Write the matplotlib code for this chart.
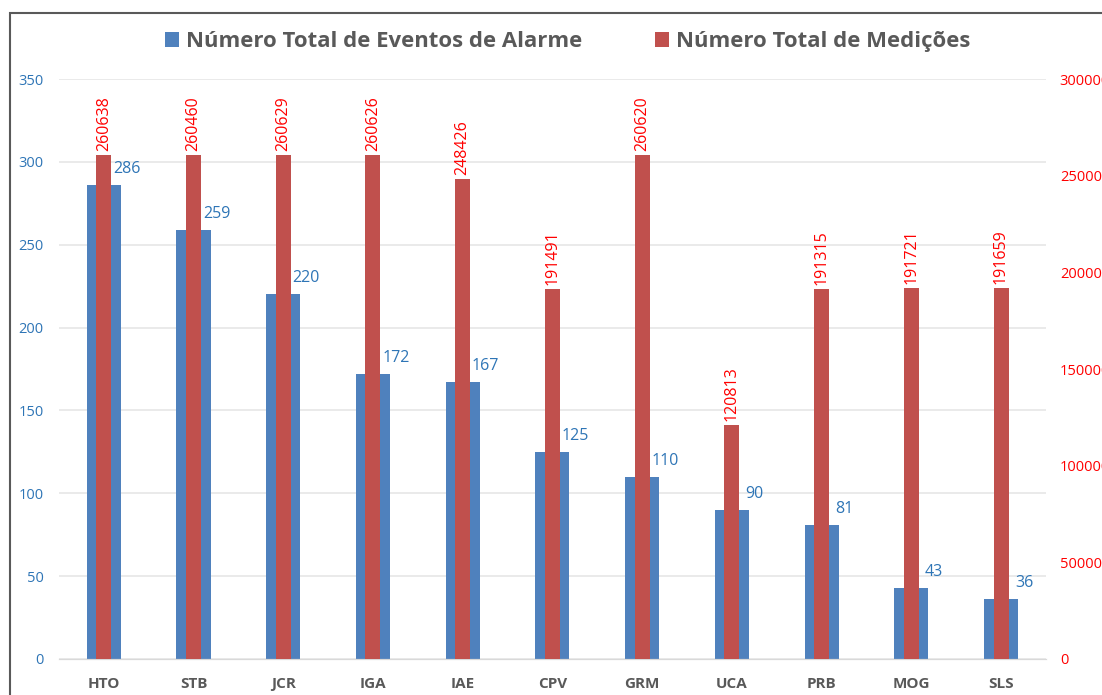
import numpy as np
import matplotlib
matplotlib.use("Agg")
import matplotlib.pyplot as plt
from matplotlib.patches import Rectangle

plt.rcParams['font.family'] = ['Open Sans', 'DejaVu Sans']

stations = ["HTO", "STB", "JCR", "IGA", "IAE", "CPV", "GRM", "UCA", "PRB", "MOG", "SLS"]
alarm_events = [286, 259, 220, 172, 167, 125, 110, 90, 81, 43, 36]
measurements = [260638, 260460, 260629, 260626, 248426, 191491, 260620,
                120813, 191315, 191721, 191659]
left_ticks = [0, 50, 100, 150, 200, 250, 300, 350]
right_ticks = [0, 50000, 100000, 150000, 200000, 250000, 300000]

blue = "#4F81BD"
red = "#C0504D"
blue_txt = "#2E75B6"
red_txt = "#FF0000"
gray_txt = "#595959"

fig = plt.figure(figsize=(11.02, 6.95), dpi=100)
ax = fig.add_axes([0.0535, 0.0518, 0.8956, 0.8345])
ax2 = ax.twinx()

x = np.arange(len(stations))
ax.bar(x, alarm_events, width=0.38, color=blue, zorder=2,
       label="Número Total de Eventos de Alarme")
ax2.bar(x, measurements, width=0.167, color=red, zorder=3,
        label="Número Total de Medições")

ax.set_ylim(0, 350)
ax2.set_ylim(0, 300000)
ax.set_xlim(-0.5, len(stations) - 0.5)
ax.set_yticks(left_ticks)
ax2.set_yticks(right_ticks)
ax.yaxis.grid(True, color="#E6E6E6", lw=1.2, zorder=0)
ax.set_axisbelow(True)

for a in (ax, ax2):
    for s in ("top", "left", "right"):
        a.spines[s].set_visible(False)
    a.spines["bottom"].set_color("#D9D9D9")
    a.tick_params(length=0)

ax.tick_params(axis="y", colors=blue_txt, labelsize=10.5, pad=11)
ax2.tick_params(axis="y", colors=red_txt, labelsize=10.5, pad=10)
ax.set_xticks(x)
ax.set_xticklabels(stations, fontweight="bold", color=gray_txt, fontsize=11)
ax.tick_params(axis="x", pad=13)

# value labels
for xi, v in zip(x, alarm_events):
    ax.annotate(str(v), (xi, v), xytext=(16.5, 11.5), textcoords="offset points",
                ha="center", va="center", color=blue_txt, fontsize=11.5)
for xi, v in zip(x, measurements):
    ax2.annotate(str(v), (xi, v), xytext=(0, 3), textcoords="offset points",
                 ha="center", va="bottom", rotation=90, color=red_txt, fontsize=11.5)

h1, l1 = ax.get_legend_handles_labels()
h2, l2 = ax2.get_legend_handles_labels()
fig.legend(h1 + h2, l1 + l2, loc="center", bbox_to_anchor=(0.515, 0.94), ncol=2,
           frameon=False, handlelength=0.65, handleheight=0.65, handletextpad=0.3,
           columnspacing=3.3, prop={"weight": "bold", "size": 15.9},
           labelcolor=gray_txt)

# outer frame of the chart
fig.patches.append(Rectangle((10 / 1102, -0.1), 1.2, 0.1 + (695 - 13) / 695,
                             transform=fig.transFigure, fill=False,
                             edgecolor="#595959", lw=1.5))

fig.savefig("out.png", dpi=100)
